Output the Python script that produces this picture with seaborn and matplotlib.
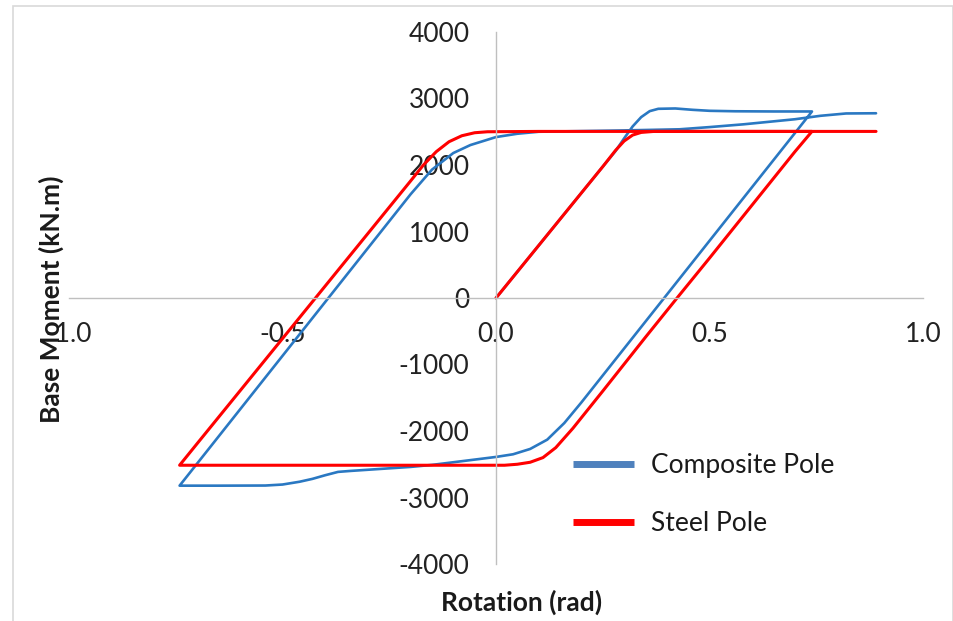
import matplotlib
matplotlib.use("Agg")
import matplotlib.pyplot as plt
import seaborn as sns
import pandas as pd
from matplotlib.patches import Rectangle

# ---------------- data ----------------
composite_rot = [0.00, 0.05, 0.10, 0.15, 0.20, 0.25, 0.28, 0.30, 0.32, 0.34, 0.36, 0.38, 0.42,
                 0.46, 0.50, 0.56, 0.65, 0.74,
                 0.70, 0.60, 0.50, 0.40, 0.30, 0.20, 0.16, 0.12, 0.08, 0.04, 0.00, -0.05,
                 -0.10, -0.15, -0.20, -0.27, -0.34, -0.37, -0.40, -0.43, -0.46, -0.50, -0.54,
                 -0.65, -0.741,
                 -0.70, -0.60, -0.50, -0.40, -0.30, -0.20, -0.15, -0.10, -0.06, -0.03, 0.00,
                 0.05, 0.10, 0.20, 0.30, 0.43, 0.50, 0.58, 0.70, 0.76, 0.82, 0.89]
composite_mom = [0, 395, 790, 1185, 1580, 1975, 2210, 2400, 2580, 2720, 2810, 2845, 2850,
                 2830, 2815, 2808, 2805, 2805,
                 2480, 1670, 860, 50, -760, -1570, -1880, -2130, -2270, -2350, -2390, -2430,
                 -2470, -2510, -2540, -2570, -2600, -2615, -2665, -2720, -2763, -2805, -2820,
                 -2822, -2822,
                 -2490, -1680, -870, -60, 750, 1560, 1930, 2180, 2300, 2360, 2420,
                 2470, 2500, 2510, 2520, 2537, 2570, 2612, 2688, 2740, 2775, 2778]

steel_rot = [0.00, 0.05, 0.10, 0.15, 0.20, 0.25, 0.28, 0.30, 0.32, 0.34, 0.37, 0.45, 0.60, 0.74,
             0.70, 0.60, 0.50, 0.424, 0.35, 0.25, 0.18, 0.14, 0.11, 0.08, 0.05, 0.02, 0.00,
             -0.20, -0.50, -0.741,
             -0.70, -0.60, -0.50, -0.40, -0.30, -0.25, -0.20, -0.17, -0.14, -0.11, -0.08,
             -0.05, -0.02, 0.10, 0.30, 0.60, 0.89]
steel_mom = [0, 395, 790, 1185, 1580, 1975, 2220, 2360, 2450, 2490, 2505, 2505, 2505, 2505,
             2200, 1400, 600, 0, -590, -1400, -1960, -2250, -2400, -2470, -2500, -2515, -2515,
             -2515, -2515, -2515,
             -2190, -1400, -610, 180, 970, 1365, 1760, 2000, 2200, 2350, 2440,
             2485, 2500, 2505, 2505, 2505, 2505]

series_names = ["Composite Pole", "Steel Pole"]
series_colors = ["#2a78c2", "#ff0000"]
legend_colors = ["#4f81bd", "#ff0000"]

x_ticks = [-1.0, -0.5, 0.0, 0.5, 1.0]
y_ticks = [4000, 3000, 2000, 1000, 0, -1000, -2000, -3000, -4000]

# ---------------- figure ----------------
sns.set_style("white")
plt.rcParams["font.family"] = ["Lato", "DejaVu Sans"]

W, H = 954, 621
fig = plt.figure(figsize=(W / 100, H / 100), dpi=100)

# outer chart border
fig.patches.append(Rectangle((13 / W, -0.05), (953 - 13) / W, 1.05 - 6 / H,
                             transform=fig.transFigure, fill=False,
                             edgecolor="#d9d9d9", linewidth=1.2))

ax_l, ax_r, ax_t, ax_b = 69, 923, 32, 564
ax = fig.add_axes([ax_l / W, (H - ax_b) / H, (ax_r - ax_l) / W, (ax_b - ax_t) / H])
ax.set_facecolor("none")

df_c = pd.DataFrame({"Rotation": composite_rot, "Moment": composite_mom})
df_s = pd.DataFrame({"Rotation": steel_rot, "Moment": steel_mom})

sns.lineplot(data=df_c, x="Rotation", y="Moment", sort=False, estimator=None,
             color=series_colors[0], linewidth=1.9, ax=ax, label=series_names[0])
sns.lineplot(data=df_s, x="Rotation", y="Moment", sort=False, estimator=None,
             color=series_colors[1], linewidth=2.2, ax=ax, label=series_names[1])

ax.set_xlim(-1.0, 1.0)
ax.set_ylim(-4000, 4000)
ax.set_xticks(x_ticks)
ax.set_xticklabels([f"{v:.1f}" for v in x_ticks])
ax.set_yticks(y_ticks)
ax.set_yticklabels([str(v) for v in y_ticks])

for side in ["top", "right"]:
    ax.spines[side].set_visible(False)
ax.spines["left"].set_position(("data", 0))
ax.spines["bottom"].set_position(("data", 0))
for side in ["left", "bottom"]:
    ax.spines[side].set_color("#bfbfbf")
    ax.spines[side].set_linewidth(1.0)

ax.tick_params(axis="both", which="major", direction="out", length=5, width=1.0,
               color="#bfbfbf", labelsize=19, labelcolor="#222222")
ax.tick_params(axis="x", pad=12)
ax.tick_params(axis="y", pad=14)

ax.set_xlabel("Rotation (rad)", fontsize=19, fontweight="bold", color="#1a1a1a")
ax.set_ylabel("Base Moment (kN.m)", fontsize=19, fontweight="bold", color="#1a1a1a")
ax.xaxis.set_label_coords((522 - ax_l) / (ax_r - ax_l), (ax_b - 590) / (ax_b - ax_t))
ax.yaxis.set_label_coords((64 - ax_l) / (ax_r - ax_l), (ax_b - 299) / (ax_b - ax_t))

leg = ax.legend(loc="upper left", bbox_to_anchor=(573 / W, 1 - 453 / H),
                bbox_transform=fig.transFigure, frameon=False, fontsize=19,
                handlelength=2.3, handletextpad=0.65, labelspacing=1.25,
                borderpad=0, borderaxespad=0)
for line, col in zip(leg.get_lines(), legend_colors):
    line.set_linewidth(5)
    line.set_color(col)
    line.set_solid_capstyle("butt")
for t in leg.get_texts():
    t.set_color("#1a1a1a")

fig.savefig("out.png", dpi=100, facecolor="white")
